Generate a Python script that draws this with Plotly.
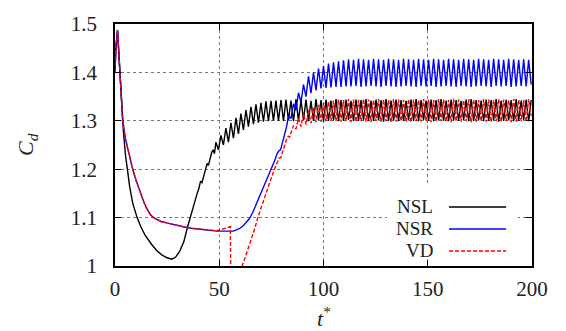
import plotly.graph_objects as go

# ---------------- data ----------------
# shared time grid of the oscillating parts (half-period samples)
t_osc = [
    48.4, 49.6, 50.8, 52.0, 53.2, 54.4, 55.6, 56.8, 58.0, 59.2,
    60.4, 61.6, 62.8, 64.0, 65.2, 66.4, 67.6, 68.8, 70.0, 71.2,
    72.4, 73.6, 74.8, 76.0, 77.2, 78.4, 79.6, 80.8, 82.0, 83.2,
    84.4, 85.6, 86.8, 88.0, 89.2, 90.4, 91.6, 92.8, 94.0, 95.2,
    96.4, 97.6, 98.8, 100.0, 101.2, 102.4, 103.6, 104.8, 106.0, 107.2,
    108.4, 109.6, 110.8, 112.0, 113.2, 114.4, 115.6, 116.8, 118.0, 119.2,
    120.4, 121.6, 122.8, 124.0, 125.2, 126.4, 127.6, 128.8, 130.0, 131.2,
    132.4, 133.6, 134.8, 136.0, 137.2, 138.4, 139.6, 140.8, 142.0, 143.2,
    144.4, 145.6, 146.8, 148.0, 149.2, 150.4, 151.6, 152.8, 154.0, 155.2,
    156.4, 157.6, 158.8, 160.0, 161.2, 162.4, 163.6, 164.8, 166.0, 167.2,
    168.4, 169.6, 170.8, 172.0, 173.2, 174.4, 175.6, 176.8, 178.0, 179.2,
    180.4, 181.6, 182.8, 184.0, 185.2, 186.4, 187.6, 188.8, 190.0, 191.2,
    192.4, 193.6, 194.8, 196.0, 197.2, 198.4, 199.6,
]

# NSL (black)
t_nsl_tr = [0, 0.4, 1.2, 2.0, 3.0, 4.0, 5.0, 5.8, 7.0, 8.5, 10.6, 12.5, 14.5,
            17.5, 20.0, 22.4, 25.0, 27.2, 29.0, 31.0, 33.0, 34.7, 36.0, 37.5,
            39.2, 40.2, 41.0, 41.7, 42.4, 43.3, 44.2, 44.8, 45.6, 46.4, 47.1, 47.7]
cd_nsl_tr = [1.40, 1.45, 1.487, 1.43, 1.34, 1.28, 1.23, 1.20, 1.165, 1.13, 1.10,
             1.08, 1.063, 1.045, 1.032, 1.023, 1.017, 1.014, 1.018, 1.03, 1.05,
             1.079, 1.10, 1.125, 1.147, 1.16, 1.175, 1.172, 1.185, 1.20, 1.212,
             1.208, 1.222, 1.235, 1.24, 1.232]
cd_nsl_osc = [
    1.256, 1.240, 1.270, 1.250, 1.285, 1.256, 1.296, 1.264, 1.306, 1.273,
    1.315, 1.281, 1.322, 1.288, 1.329, 1.293, 1.334, 1.296, 1.337, 1.298,
    1.340, 1.299, 1.341, 1.300, 1.342, 1.300,
    1.343, 1.300, 1.344, 1.301, 1.342, 1.299, 1.345, 1.300, 1.343, 1.302,
    1.344, 1.299, 1.341, 1.300, 1.345, 1.301, 1.343, 1.298, 1.344, 1.300,
    1.342, 1.301, 1.345, 1.299, 1.343, 1.300, 1.344, 1.302, 1.341, 1.299,
    1.344, 1.300, 1.343, 1.301, 1.345, 1.299, 1.342, 1.300, 1.344, 1.301,
    1.343, 1.298, 1.345, 1.300, 1.342, 1.301, 1.344, 1.299, 1.343, 1.300,
    1.341, 1.301, 1.344, 1.300, 1.345, 1.299, 1.343, 1.302, 1.342, 1.300,
    1.344, 1.299, 1.343, 1.301, 1.345, 1.300, 1.342, 1.299, 1.344, 1.301,
    1.343, 1.300, 1.341, 1.302, 1.344, 1.299, 1.345, 1.300, 1.343, 1.301,
    1.342, 1.299, 1.344, 1.300, 1.343, 1.301, 1.345, 1.298, 1.342, 1.300,
    1.344, 1.301, 1.343, 1.299, 1.345, 1.300, 1.342, 1.302, 1.344, 1.299,
    1.343,
]

# NSR (blue)
t_nsr_tr = [0, 0.4, 1.2, 2.0, 3.0, 3.7, 5.0, 6.5, 8.5, 10.0, 12.0, 14.0, 15.5,
            17.0, 18.5, 20.0, 22.0, 24.8, 28.5, 32.8, 36.5, 40.8, 44.5, 48.8,
            53.0, 56.6, 58.5, 60.0, 61.5, 63.0, 64.5, 66.0, 67.5, 69.0, 71.0,
            73.0, 75.0, 76.5, 77.8, 78.6, 79.4, 80.4, 81.5, 82.3]
cd_nsr_tr = [1.40, 1.45, 1.487, 1.43, 1.335, 1.30, 1.263, 1.233, 1.20, 1.178,
             1.152, 1.130, 1.117, 1.106, 1.100, 1.096, 1.092, 1.089, 1.085,
             1.081, 1.078, 1.076, 1.074, 1.072, 1.072, 1.072, 1.075, 1.078,
             1.083, 1.09, 1.098, 1.11, 1.125, 1.14, 1.16, 1.18, 1.20, 1.217,
             1.233, 1.238, 1.24, 1.256, 1.275, 1.288]
cd_nsr_osc = [
    1.31, 1.305, 1.335, 1.322, 1.358, 1.338, 1.375, 1.35, 1.392, 1.357,
    1.40, 1.363, 1.408, 1.367, 1.413, 1.368, 1.418, 1.369, 1.421, 1.37,
    1.423, 1.37, 1.425, 1.371,
    1.427, 1.371, 1.426, 1.372, 1.428, 1.370, 1.427, 1.371, 1.426, 1.372,
    1.428, 1.371, 1.427, 1.370, 1.426, 1.372, 1.428, 1.371, 1.427, 1.370,
    1.426, 1.371, 1.428, 1.372, 1.427, 1.371, 1.426, 1.370, 1.428, 1.372,
    1.427, 1.371, 1.426, 1.372, 1.428, 1.370, 1.427, 1.371, 1.426, 1.372,
    1.428, 1.371, 1.427, 1.370, 1.426, 1.372, 1.428, 1.371, 1.427, 1.370,
    1.426, 1.371, 1.428, 1.372, 1.427, 1.371, 1.426, 1.370, 1.428, 1.372,
    1.427, 1.371, 1.426, 1.372, 1.428, 1.370, 1.427, 1.371, 1.426, 1.372,
    1.427, 1.371, 1.426, 1.375,
]

# VD (red dashed)
t_vd_tr = [0, 0.4, 1.2, 2.0, 3.0, 3.7, 5.0, 6.5, 8.5, 10.0, 12.0, 14.0, 15.5,
           17.0, 18.5, 20.0, 22.0, 24.8, 28.5, 32.8, 36.5, 40.8, 44.5, 48.8,
           50.5, 52.5, 54.3, 55.3, 55.6, 55.8, 58.5, 61.0, 63.0, 65.0, 67.0,
           68.5, 70.0, 72.0, 74.0, 76.5, 77.8, 78.7, 79.5, 80.3, 81.3, 82.3,
           83.1, 83.8, 84.4]
cd_vd_tr = [1.40, 1.45, 1.487, 1.43, 1.335, 1.30, 1.263, 1.233, 1.20, 1.178,
            1.152, 1.130, 1.117, 1.106, 1.100, 1.096, 1.092, 1.089, 1.085,
            1.081, 1.078, 1.076, 1.074, 1.073, 1.075, 1.077, 1.079, 1.081,
            0.95, 0.90, 0.90, 1.0, 1.025, 1.05, 1.077, 1.10, 1.12, 1.145,
            1.17, 1.20, 1.215, 1.223, 1.224, 1.235, 1.248, 1.262, 1.268,
            1.266, 1.275]
cd_vd_osc = [
    1.29, 1.283, 1.305, 1.288, 1.315, 1.292, 1.322, 1.295, 1.328, 1.297,
    1.333, 1.298, 1.337, 1.299, 1.340, 1.300, 1.342, 1.299,
    1.344, 1.298, 1.343, 1.299, 1.345, 1.297, 1.344, 1.298, 1.343, 1.299,
    1.345, 1.298, 1.344, 1.297, 1.343, 1.299, 1.345, 1.298, 1.344, 1.299,
    1.343, 1.297, 1.345, 1.298, 1.344, 1.299, 1.343, 1.298, 1.345, 1.297,
    1.344, 1.299, 1.343, 1.298, 1.345, 1.299, 1.344, 1.297, 1.343, 1.298,
    1.345, 1.299, 1.344, 1.298, 1.343, 1.297, 1.345, 1.299, 1.344, 1.298,
    1.343, 1.299, 1.345, 1.297, 1.344, 1.298, 1.343, 1.299, 1.345, 1.298,
    1.344, 1.297, 1.343, 1.299, 1.345, 1.298, 1.344, 1.299, 1.343, 1.297,
    1.345, 1.298, 1.344, 1.299, 1.343, 1.298, 1.345, 1.310,
]

series_names = ["NSL", "NSR", "VD"]
series_colors = ["#000000", "#0000ff", "#ff0000"]
x_ticks = [0, 50, 100, 150, 200]
y_ticks = [1.0, 1.1, 1.2, 1.3, 1.4, 1.5]
y_tick_text = ["1", "1.1", "1.2", "1.3", "1.4", "1.5"]

# ---------------- figure ----------------
FONT = "Liberation Serif"
fig = go.Figure()

x_nsl = t_nsl_tr + t_osc
y_nsl = cd_nsl_tr + cd_nsl_osc
x_nsr = t_nsr_tr + t_osc[29:]
y_nsr = cd_nsr_tr + cd_nsr_osc
x_vd = t_vd_tr + t_osc[31:]
y_vd = cd_vd_tr + cd_vd_osc

fig.add_trace(go.Scatter(x=x_nsl, y=y_nsl, mode="lines", name=series_names[0],
                         line=dict(color=series_colors[0], width=1.4)))
fig.add_trace(go.Scatter(x=x_nsr, y=y_nsr, mode="lines", name=series_names[1],
                         line=dict(color=series_colors[1], width=1.4)))
fig.add_trace(go.Scatter(x=x_vd, y=y_vd, mode="lines", name=series_names[2],
                         line=dict(color=series_colors[2], width=1.4, dash="4px,2px")))

axis_common = dict(
    showline=True, linecolor="black", linewidth=1.5, mirror="ticks",
    ticks="inside", ticklen=6, tickcolor="black", tickwidth=1,
    showgrid=True, gridcolor="#777777", gridwidth=1, griddash="dot",
    zeroline=False, tickfont=dict(family=FONT, size=21, color="#222"),
)
fig.update_xaxes(range=[0, 200], tickvals=x_ticks, ticklabelstandoff=3, **axis_common)
fig.update_yaxes(range=[1.0, 1.5], tickvals=y_ticks, ticktext=y_tick_text,
                 ticklabelstandoff=12, **axis_common)

# legend drawn gnuplot-style (text left of sample), white box behind
shapes = [dict(type="rect", xref="paper", yref="paper", x0=0.652, x1=0.966,
               y0=0.028, y1=0.333, fillcolor="white", line=dict(width=0), layer="above")]
annotations = []
legend_y = [0.244, 0.153, 0.062]
legend_dash = ["solid", "solid", "4px,2px"]
for name, col, yy, dsh in zip(series_names, series_colors, legend_y, legend_dash):
    shapes.append(dict(type="line", xref="paper", yref="paper", x0=0.801, x1=0.938,
                       y0=yy, y1=yy, line=dict(color=col, width=1.5, dash=dsh),
                       layer="above"))
    annotations.append(dict(text=name, xref="paper", yref="paper", x=0.767, y=yy,
                            xanchor="right", yanchor="middle", showarrow=False,
                            font=dict(family=FONT, size=19, color="#222")))

annotations.append(dict(text="<i>t</i><sup>*</sup>", xref="paper", yref="paper",
                        x=0.5, y=-0.21, xanchor="center", yanchor="middle",
                        showarrow=False, font=dict(family=FONT, size=22, color="#222")))
annotations.append(dict(text="<i>C<sub>d</sub></i>", xref="paper", yref="paper",
                        x=-0.211, y=0.5, xanchor="center", yanchor="middle",
                        textangle=-90, showarrow=False,
                        font=dict(family=FONT, size=22, color="#222")))

fig.update_layout(
    width=566, height=331,
    margin=dict(l=115, r=34, t=17, b=65),
    plot_bgcolor="white", paper_bgcolor="white",
    showlegend=False, shapes=shapes, annotations=annotations,
)

fig.write_html("out.html")
